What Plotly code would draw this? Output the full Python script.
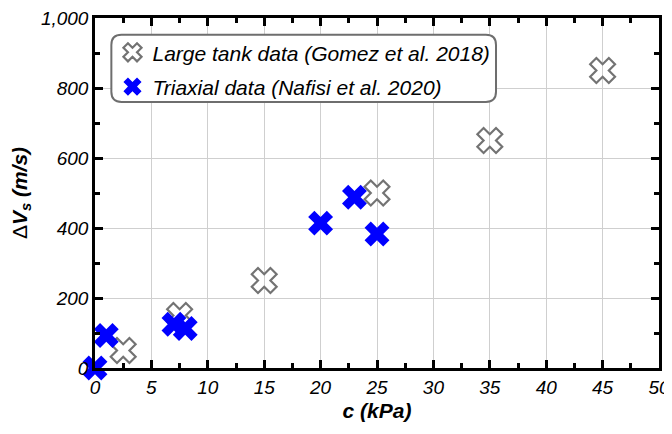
import plotly.graph_objects as go

# Data
tank_c = [2.5, 7.5, 15, 25, 35, 45]
tank_dvs = [50, 150, 250, 500, 650, 850]
tri_c = [0, 1, 7, 8, 20, 23, 25]
tri_dvs = [0, 93, 125, 113, 414, 488, 383]

x_ticks = [0, 5, 10, 15, 20, 25, 30, 35, 40, 45, 50]
y_ticks = [0, 200, 400, 600, 800, 1000]

FONT = "Liberation Sans, Arial, sans-serif"

fig = go.Figure()
fig.add_trace(go.Scatter(
    x=tank_c, y=tank_dvs, mode="markers",
    name="Large tank data (Gomez et al. 2018)",
    marker=dict(symbol="x-open", size=22, color="#737373",
                line=dict(color="#737373", width=2.2)),
    cliponaxis=False, legend="legend",
))
fig.add_trace(go.Scatter(
    x=tri_c, y=tri_dvs, mode="markers",
    name="Triaxial data (Nafisi et al. 2020)",
    marker=dict(symbol="x", size=22, color="#0000ff", line=dict(width=0)),
    cliponaxis=False, legend="legend2",
))

# rounded legend frame (paper fractions)
x0, x1, yt, yb = 0.029, 0.711, 0.952, 0.760
rx, ry = 0.018, 0.029
path = (f"M {x0+rx},{yt} L {x1-rx},{yt} Q {x1},{yt} {x1},{yt-ry} "
        f"L {x1},{yb+ry} Q {x1},{yb} {x1-rx},{yb} "
        f"L {x0+rx},{yb} Q {x0},{yb} {x0},{yb+ry} "
        f"L {x0},{yt-ry} Q {x0},{yt} {x0+rx},{yt} Z")
fig.add_shape(type="path", path=path, xref="paper", yref="paper",
              line=dict(color="#6e6e6e", width=2), fillcolor="white", layer="above")

axis_common = dict(
    showline=True, linecolor="black", linewidth=2.5, mirror="ticks",
    ticks="inside", ticklen=8, tickwidth=2.5, tickcolor="black",
    showgrid=True, gridcolor="#cfcfcf", gridwidth=1, zeroline=False,
    automargin=False, ticklabeloverflow="allow",
    tickfont=dict(family=FONT, size=19, color="black", style="italic"),
)

fig.update_xaxes(
    range=[0, 50], tickvals=x_ticks, ticktext=[str(v) for v in x_ticks],
    minor=dict(ticks="inside", ticklen=5, tickwidth=2.5, tickcolor="black", dtick=2.5, showgrid=False),
    title=dict(text="<b><i>c (kPa)</i></b>", font=dict(family=FONT, size=21, color="black"), standoff=7),
    **axis_common,
)
fig.update_yaxes(
    range=[0, 1000], tickvals=y_ticks, ticktext=[f"{v:,}" for v in y_ticks],
    minor=dict(ticks="inside", ticklen=5, tickwidth=2.5, tickcolor="black", dtick=100, showgrid=False),
    title=dict(text="Δ<b><i>V<sub>s</sub> (m/s)</i></b>", font=dict(family=FONT, size=21, color="black"), standoff=10),
    **axis_common,
)

legend_font = dict(family=FONT, size=21, color="black", style="italic")
fig.update_layout(
    width=664, height=426,
    margin=dict(l=87, r=13, t=10, b=66),
    plot_bgcolor="white", paper_bgcolor="white",
    showlegend=True,
    legend=dict(x=0.031, y=0.901, xanchor="left", yanchor="middle",
                bgcolor="rgba(0,0,0,0)", borderwidth=0, font=legend_font),
    legend2=dict(x=0.031, y=0.803, xanchor="left", yanchor="middle",
                 bgcolor="rgba(0,0,0,0)", borderwidth=0, font=legend_font),
)

fig.write_html("out.html")
